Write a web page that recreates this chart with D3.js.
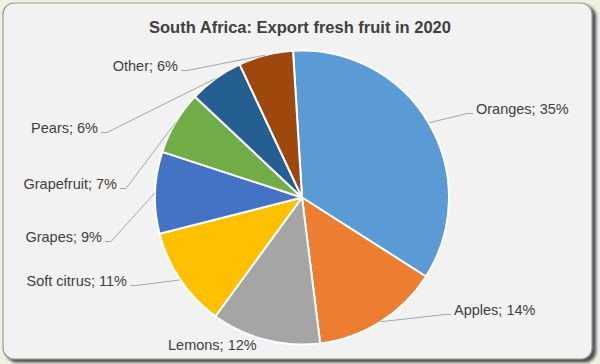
<!DOCTYPE html>
<html>
<head>
<meta charset="utf-8">
<script src="https://cdn.jsdelivr.net/npm/d3@7"></script>
<style>
    body { margin: 0; background: #eef3e1; }
    svg { display: block; font-family: "Liberation Sans", Arial, sans-serif; }
</style>
</head>
<body>
<svg class="canvas" width="600" height="364"></svg>
<script>
// data
var fruits = ['Oranges', 'Apples', 'Lemons', 'Soft citrus', 'Grapes', 'Grapefruit', 'Pears', 'Other'];
var shares = [35, 14, 12, 11, 9, 7, 6, 6];
var colors = ['#5b9bd5', '#ed7d31', '#a5a5a5', '#ffc000', '#4472c4', '#70ad47', '#255e91', '#9e480e'];

// label placement (x = text edge next to the pie, y = text middle)
var labelAt = [
    {x: 476, y: 109, side: 'start', leader: true},
    {x: 454, y: 310, side: 'start', leader: true},
    {x: 168, y: 345, side: 'start', leader: false},
    {x: 127, y: 281, side: 'end', leader: true},
    {x: 102, y: 237, side: 'end', leader: true},
    {x: 117, y: 184, side: 'end', leader: true},
    {x: 98, y: 128, side: 'end', leader: true},
    {x: 178, y: 66, side: 'end', leader: true}
];

var center = {x: 302, y: 197.5};
var radius = 147;
var startAngle = -3.5 * Math.PI / 180;

var svg = d3.select('.canvas');

// panel with shadow
var defs = svg.append('defs');
var shadow = defs.append('filter').attr('id', 'shadow')
    .attr('x', '-5%').attr('y', '-5%').attr('width', '115%').attr('height', '115%');
shadow.append('feDropShadow')
    .attr('dx', 3.5).attr('dy', 3)
    .attr('stdDeviation', 1.6)
    .attr('flood-color', '#444')
    .attr('flood-opacity', 0.95);

svg.append('rect')
    .attr('x', 3).attr('y', 3)
    .attr('width', 589).attr('height', 356)
    .attr('rx', 11).attr('ry', 11)
    .attr('fill', '#f2f2f2')
    .attr('stroke', '#9a9a9a')
    .attr('stroke-width', 1.2)
    .attr('filter', 'url(#shadow)');

svg.append('text')
    .attr('x', 300).attr('y', 33)
    .attr('text-anchor', 'middle')
    .attr('font-size', '16.5px')
    .attr('font-weight', 'bold')
    .attr('fill', '#404040')
    .text('South Africa: Export fresh fruit in 2020');

var data = fruits.map(function(f, i){
    return {name: f, value: shares[i], color: colors[i], label: labelAt[i]};
});

var pie = d3.pie()
    .sort(null)
    .value(function(d){ return d.value; })
    .startAngle(startAngle)
    .endAngle(startAngle + 2 * Math.PI);

var arc = d3.arc().innerRadius(0).outerRadius(radius);

var chart = svg.append('g')
    .attr('transform', 'translate(' + center.x + ',' + center.y + ')');

var slices = pie(data);

chart.selectAll('path.slice')
    .data(slices)
    .enter().append('path')
    .classed('slice', true)
    .attr('d', arc)
    .attr('fill', function(d){ return d.data.color; })
    .attr('stroke', '#ffffff')
    .attr('stroke-width', 2)
    .attr('stroke-linejoin', 'round');

// leader lines: pie edge at mid angle -> elbow -> label
var leaders = svg.append('g').classed('leaders', true);
slices.forEach(function(s){
    var lab = s.data.label;
    if (!lab.leader) return;
    var mid = (s.startAngle + s.endAngle) / 2;
    var ex = center.x + radius * Math.sin(mid);
    var ey = center.y - radius * Math.cos(mid);
    var dir = lab.side === 'start' ? -1 : 1;
    var ly = lab.y + 4.5;
    leaders.append('path')
        .attr('d', 'M' + ex + ',' + ey + 'L' + (lab.x + dir * 9) + ',' + ly + 'L' + (lab.x + dir * 3) + ',' + ly)
        .attr('fill', 'none')
        .attr('stroke', '#a6a6a6')
        .attr('stroke-width', 1);
});

svg.append('g').classed('labels', true)
    .selectAll('text')
    .data(data)
    .enter().append('text')
    .attr('x', function(d){ return d.label.x; })
    .attr('y', function(d){ return d.label.y; })
    .attr('dy', '0.35em')
    .attr('text-anchor', function(d){ return d.label.side; })
    .attr('font-size', '14.5px')
    .attr('fill', '#404040')
    .text(function(d){ return d.name + '; ' + d.value + '%'; });
</script>
</body>
</html>
